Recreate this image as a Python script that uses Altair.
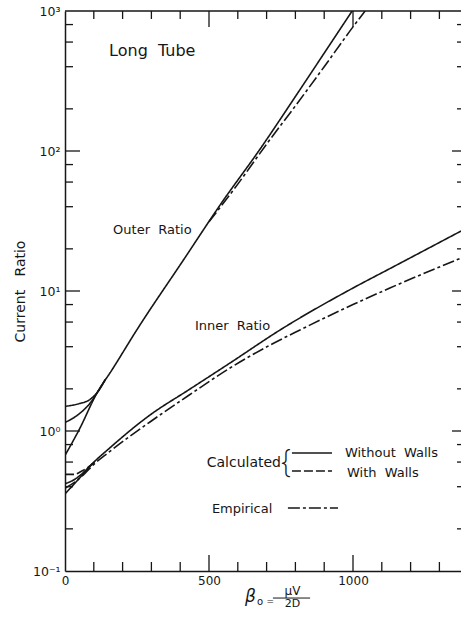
import altair as alt
import pandas as pd

FONT = "DejaVu Sans"
INK = "#161616"

W, H = 396, 560          # plot area in pixels
X_MAX = 1375             # right edge of the visible beta_0 range

# ---------------- curves (beta_0 vs current ratio) ----------------
# Outer ratio
outer_x = [0, 50, 111, 163, 250, 410, 545, 677, 800, 900, 997]
outer_y = [0.67, 1.03, 1.87, 2.73, 5.3, 16.5, 43, 103, 245, 500, 1000]

outer_flat_x = [0, 50, 87, 115, 140]
outer_flat_y = [1.50, 1.57, 1.68, 1.92, 2.33]

outer_mid_x = [0, 52, 87, 115, 140]
outer_mid_y = [1.15, 1.34, 1.58, 1.92, 2.33]

outer_emp_x = [500, 600, 700, 800, 900, 1000, 1042]
outer_emp_y = [31.2, 58, 112, 210, 400, 770, 1000]

# Inner ratio
inner_x = [0, 50, 97, 150, 295, 430, 573, 747, 1000, 1128, 1375]
inner_y = [0.355, 0.46, 0.59, 0.74, 1.30, 1.97, 3.06, 5.27, 10.5, 14.45, 26.8]

inner_b_x = [0, 40, 70, 97]
inner_b_y = [0.42, 0.46, 0.52, 0.59]

inner_walls_x = [0, 30, 60, 90, 110]
inner_walls_y = [0.49, 0.49, 0.52, 0.57, 0.62]

inner_emp_x = [0, 40, 70, 97, 150, 295, 430, 573, 712, 816, 1000, 1128, 1375]
inner_emp_y = [0.39, 0.44, 0.50, 0.57, 0.70, 1.16, 1.80, 2.82, 4.11, 5.27, 8.0, 10.5, 17.2]

curve_defs = [
    ("outer", "solid", outer_x, outer_y),
    ("outer_flat", "solid", outer_flat_x, outer_flat_y),
    ("outer_mid", "solid", outer_mid_x, outer_mid_y),
    ("outer_emp", "empirical", outer_emp_x, outer_emp_y),
    ("inner", "solid", inner_x, inner_y),
    ("inner_b", "solid", inner_b_x, inner_b_y),
    ("inner_walls", "walls", inner_walls_x, inner_walls_y),
    ("inner_emp", "empirical", inner_emp_x, inner_emp_y),
]

# ---------------- key ----------------
key_style = ["solid", "walls", "empirical"]
key_x = [788, 788, 774]
key_x2 = [927, 927, 948]
key_y = [0.696, 0.518, 0.282]

# ---------------- annotations ----------------
ann_text = ["Long\u00a0\u00a0Tube", "Outer\u00a0\u00a0Ratio", "Inner\u00a0\u00a0Ratio",
            "Calculated", "Without\u00a0\u00a0Walls", "With\u00a0\u00a0Walls", "Empirical"]
ann_x = [153, 167, 451, 750, 972, 979, 510]
ann_y = [477, 25.5, 5.27, 0.553, 0.652, 0.469, 0.260]
ann_size = [16, 13, 13, 14, 13, 13, 13]
ann_align = ["left", "left", "left", "right", "left", "left", "left"]

# brace of the key
brace_x = [767]
brace_y = [0.505]

# x-axis title pieces: beta_0 = mu V / 2D
xt_text = ["β", "o", "=", "μV", "2D"]
xt_x = [625, 667, 700, 790, 790]
xt_y = [0.0601, 0.0572, 0.0581, 0.0674, 0.0553]
xt_size = [17, 10, 9, 12, 11]
xt_align = ["left", "left", "left", "center", "center"]
xt_style = ["italic", "normal", "normal", "normal", "normal"]
frac_x, frac_x2, frac_y = [722], [851], [0.0641]

# ---------------- ticks ----------------
x_ticks_minor = [100, 200, 300, 400, 600, 700, 800, 900, 1100, 1200, 1300]
x_ticks_major = [500, 1000]
y_ticks_minor = [0.2, 0.4, 0.6, 0.8, 2, 4, 6, 8, 20, 40, 60, 80, 200, 400, 600, 800]
y_ticks_major = [1, 10, 100]
y_labels = [0.1, 1, 10, 100, 1000]
x_labels = [0, 500, 1000]

# ---------------- scales / axes ----------------
xscale = alt.Scale(domain=[0, X_MAX], nice=False, zero=False)
yscale = alt.Scale(type="log", domain=[0.1, 1000], nice=False)

x_axis = alt.Axis(values=x_labels, format="d", title="", ticks=False, tickSize=0,
                  grid=False, domainColor=INK, domainWidth=1.5, labelFont=FONT,
                  labelFontSize=12, labelColor=INK, labelPadding=4, labelFlush=False)
y_axis = alt.Axis(values=y_labels,
                  labelExpr=("datum.value >= 999 ? '10³' : datum.value >= 99 ? '10²' : "
                             "datum.value >= 9 ? '10¹' : datum.value >= 0.9 ? '10⁰' : '10⁻¹'"),
                  title="Current\u00a0\u00a0\u00a0Ratio", titleFont=FONT, titleFontSize=14,
                  titleFontWeight="normal", titleColor=INK, titlePadding=5,
                  ticks=False, tickSize=0, grid=False, domainColor=INK, domainWidth=1.5,
                  labelFont=FONT, labelFontSize=12.5, labelColor=INK, labelPadding=5,
                  labelFlush=False)


def X(field="x"):
    return alt.X(f"{field}:Q", scale=xscale, axis=x_axis)


def Y(field="y"):
    return alt.Y(f"{field}:Q", scale=yscale, axis=y_axis)


dash_scale = alt.Scale(domain=["solid", "walls", "empirical"],
                       range=[[1, 0], [9, 3], [12, 3, 3, 3]])

# ---------------- layers ----------------
rows = []
for name, style, xs, ys in curve_defs:
    for xv, yv in zip(xs, ys):
        rows.append({"x": xv, "y": yv, "series": name, "style": style})
curves_df = pd.DataFrame(rows)

curves = alt.Chart(curves_df).mark_line(
    color=INK, strokeWidth=1.6, interpolate="monotone", clip=True
).encode(
    x=X(), y=Y(), detail="series:N",
    strokeDash=alt.StrokeDash("style:N", scale=dash_scale, legend=None),
)

key_df = pd.DataFrame({"x": key_x, "x2": key_x2, "y": key_y, "style": key_style})
key = alt.Chart(key_df).mark_rule(color=INK, strokeWidth=1.5).encode(
    x=X(), x2="x2:Q", y=Y(),
    strokeDash=alt.StrokeDash("style:N", scale=dash_scale, legend=None),
)

layers = [curves, key]

for t, xv, yv, s, a in zip(ann_text, ann_x, ann_y, ann_size, ann_align):
    d = pd.DataFrame({"x": [xv], "y": [yv], "t": [t]})
    layers.append(alt.Chart(d).mark_text(
        font=FONT, fontSize=s, align=a, baseline="alphabetic", color=INK
    ).encode(x=X(), y=Y(), text="t:N"))

brace_df = pd.DataFrame({"x": brace_x, "y": brace_y, "t": ["{"]})
layers.append(alt.Chart(brace_df).mark_text(
    font="Inter", fontWeight=200, fontSize=31, align="center", baseline="alphabetic", color=INK
).encode(x=X(), y=Y(), text="t:N"))

for t, xv, yv, s, a, st in zip(xt_text, xt_x, xt_y, xt_size, xt_align, xt_style):
    d = pd.DataFrame({"x": [xv], "y": [yv], "t": [t]})
    layers.append(alt.Chart(d).mark_text(
        font=FONT, fontSize=s, align=a, baseline="alphabetic", color=INK, fontStyle=st
    ).encode(x=X(), y=Y(), text="t:N"))

frac_df = pd.DataFrame({"x": frac_x, "x2": frac_x2, "y": frac_y})
layers.append(alt.Chart(frac_df).mark_rule(color=INK, strokeWidth=1).encode(
    x=X(), x2="x2:Q", y=Y()))

# frame: top edge
layers.append(alt.Chart(pd.DataFrame({"x": [0]})).mark_rule(color=INK, strokeWidth=1.5).encode(
    x=alt.value(0), x2=alt.value(W + 10), y=alt.value(0)))


def xticks(values, y0, y1):
    d = pd.DataFrame({"x": values})
    return alt.Chart(d).mark_rule(color=INK, strokeWidth=1.3).encode(
        x=X(), y=alt.value(y0), y2=alt.value(y1))


def yticks(values, x0, x1):
    d = pd.DataFrame({"y": values})
    return alt.Chart(d).mark_rule(color=INK, strokeWidth=1.3).encode(
        y=Y(), x=alt.value(x0), x2=alt.value(x1))


RIGHT = W + 7  # right frame sits just past the visible area
layers += [
    xticks(x_ticks_minor, H, H - 9),
    xticks(x_ticks_major, H, H - 16),
    xticks(x_ticks_minor, 0, 8),
    xticks(x_ticks_major, 0, 16),
    yticks(y_ticks_minor, 0, 8),
    yticks(y_ticks_major, 0, 15),
    yticks(y_ticks_minor, RIGHT, RIGHT - 11),
    yticks(y_ticks_major, RIGHT, RIGHT - 16),
]

chart = alt.layer(*layers).properties(
    width=W, height=H,
    autosize=alt.AutoSizeParams(type="none"),
    padding={"left": 65, "top": 11, "right": 0, "bottom": 48},
    background="white",
).configure_view(strokeWidth=0)

chart.save("out.html", embed_options={"renderer": "svg", "actions": False})
